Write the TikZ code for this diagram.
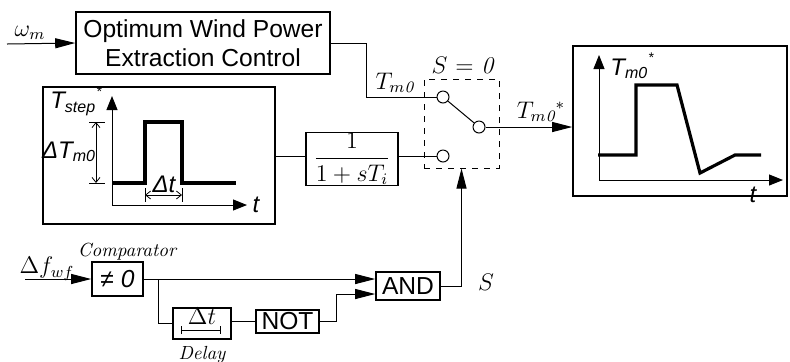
\documentclass[tikz,border=0pt]{standalone}
\usepackage{fontspec}
\newfontfamily\arial{Liberation Sans}
\usetikzlibrary{arrows.meta}

\begin{document}
\begin{tikzpicture}[x=0.5pt, y=-0.5pt,
      block/.style={draw, line width=0.8pt, inner sep=0pt, align=center,
                    font=\arial\fontsize{12.3}{14.5}\selectfont},
      sig/.style={line width=0.5pt},
      arr/.style={sig, -{Triangle[length=10pt,width=5pt]}},
      axis/.style={line width=0.5pt, -{Triangle[length=7pt,width=5.5pt]}},
      dim/.style={line width=0.4pt, {Straight Barb[length=2.5pt,width=4pt]}-{Straight Barb[length=2.5pt,width=4pt]}},
      curve/.style={line width=1.6pt, line join=miter},
      contact/.style={circle, draw, line width=0.5pt, fill=white, inner sep=0pt, minimum size=6pt},
      lbl/.style={font=\fontsize{12}{14}\selectfont},
      slbl/.style={font=\arial\itshape\fontsize{12}{14}\selectfont},
      note/.style={font=\itshape\fontsize{9.5}{11}\selectfont}
    ]
    \useasboundingbox (0,0) rectangle (790,361);

    % Upper branch
    \coordinate (win) at (7,44);
    \node[block, minimum width=127pt, minimum height=31pt] (owpe) at (203,43)
         {Optimum Wind Power\\Extraction Control};
    \draw[arr] (win) -- (owpe.west);
    \node[lbl] (omega) at (30,33) {$\omega_m$};

    % Step input
    \node[draw, line width=0.8pt, minimum width=116pt, minimum height=68.5pt, inner sep=0pt] (stepbox) at (159,155.5) {};
    \draw[axis] (112,205) -- (112,96);
    \draw[axis] (112,205) -- (247,205);
    \draw[curve] (112,183) -- (145,183) -- (145,122) -- (182,122) -- (182,183) -- (236,183);
    \draw[sig] (89,122) -- (105,122);
    \draw[sig] (89,183) -- (105,183);
    \draw[dim] (96,122) -- (96,183);
    \draw[sig] (145,188) -- (145,202);
    \draw[sig] (182,188) -- (182,202);
    \draw[dim] (145,195) -- (182,195);
    \node[slbl] at (76,101) {T\textsubscript{step}\raisebox{1.0ex}{\scriptsize *}};
    \node[slbl] at (69,152) {ΔT\textsubscript{m0}};
    \node[slbl] at (164,184) {Δt};
    \node[slbl] at (256,205) {t};

    % Filter and switch
    \node[block, minimum width=46pt, minimum height=26.5pt] (filter) at (352,159)
         {\fontsize{12}{14}\selectfont$\displaystyle\frac{1}{1+sT_i}$};
    \node[draw, dashed, line width=0.5pt, minimum width=37.5pt, minimum height=44.5pt, inner sep=0pt] (sw) at (461.5,123.5) {};
    \node[contact] (up)  at (443,97)  {};
    \node[contact] (low) at (443,156) {};
    \node[contact] (out) at (479,127) {};
    \draw[sig] (up) -- (out);
    \draw[sig] (owpe.east) -- ++(36,0) |- (up.west);
    \draw[sig] (stepbox.east |- low) -- (filter.west |- low);
    \draw[sig] (filter.east |- low) -- (low.west);
    \node[lbl] at (463,66) {$S$ = \textit{0}};
    \node[lbl] at (395,83) {$T_{m\mathit{0}}$};
    \node[lbl] at (541,112) {$T_{m\mathit{0}}{}^{*}$};

    % Output
    \node[draw, line width=0.8pt, minimum width=107pt, minimum height=75pt, inner sep=0pt] (outbox) at (680,121) {};
    \draw[arr] (out.east) -- (outbox.west |- out);
    \draw[axis] (599,180) -- (599,55);
    \draw[axis] (599,180) -- (783,180);
    \draw[curve] (598,155) -- (636,155) -- (636,85) -- (677,85) -- (700,173) -- (735,155) -- (761,155);
    \node[slbl] at (632,66) {T\textsubscript{m0}\raisebox{1.0ex}{\scriptsize *}};
    \node[slbl] at (753,195) {t};

    % Switching logic
    \coordinate (fin) at (25,279);
    \node[block, minimum width=25.5pt, minimum height=17pt] (comp) at (117.5,279) {\itshape ≠ 0};
    \node[block, minimum width=32pt, minimum height=14pt] (and) at (408,286) {AND};
    \node[block, minimum width=29pt, minimum height=15.5pt] (delay) at (202,323.5) {};
    \node[block, minimum width=31.5pt, minimum height=11.5pt] (not) at (287.5,321.5) {NOT};
    \coordinate (split) at (158,279);
    \draw[arr] (fin) -- (comp.west);
    \draw[arr] (comp.east) -- (comp.east -| and.west);
    \draw[sig] (split) |- (delay.west);
    \draw[sig] (delay.east |- not) -- (not.west);
    \draw[arr] (not.east) -- ++(17,0) |- ([yshift=-4pt]and.west);
    \draw[arr] (and.east) -| (sw.south);
    \draw[line width=0.4pt, {Bar[width=4pt]}-{Bar[width=4pt]}] (181,330) -- (221,330);
    \node[lbl] at (202,316) {$\Delta t$};
    \node[lbl] at (47,269) {$\Delta f_{wf}$};
    \node[lbl] at (486,282) {$S$};
    \node[note] at (127,252) {Comparator};
    \node[note] at (202,355) {Delay};

  \end{tikzpicture}
\end{document}
